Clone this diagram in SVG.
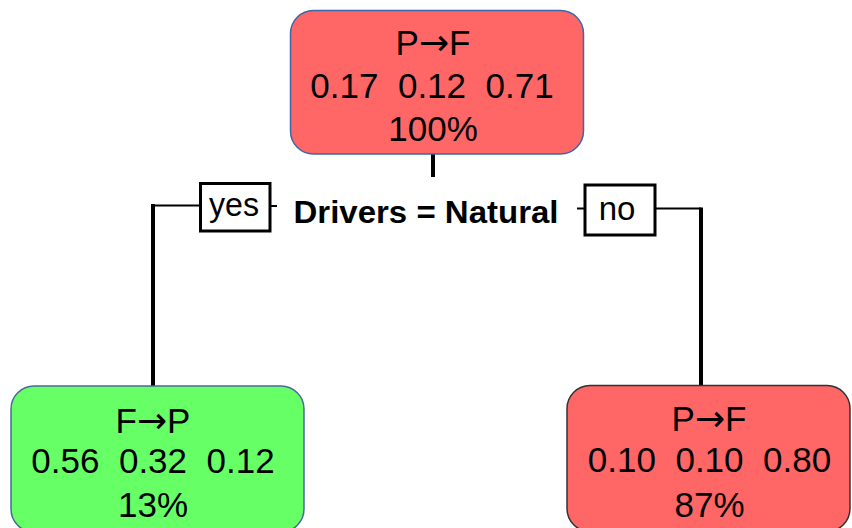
<svg xmlns="http://www.w3.org/2000/svg" width="852" height="528" viewBox="0 0 852 528">
<style>
.node text{font-family:"Liberation Sans",Arial,sans-serif;font-size:35px;fill:#000;text-anchor:middle;white-space:pre}
.arr{font-family:"DejaVu Sans",sans-serif;font-size:36px}
.red{fill:#ff6666}
.green{fill:#66ff66}
.conn{stroke:#000;fill:none}
.thick{stroke-width:4}
.thin{stroke-width:2}
.lbl rect{fill:#fff;stroke:#000;stroke-width:3}
.lbl text{font-family:"Liberation Sans",Arial,sans-serif;font-size:33px;fill:#000;text-anchor:middle}
.split{font-family:"Liberation Sans",Arial,sans-serif;font-size:31px;font-weight:bold;fill:#000;text-anchor:middle}
</style>
<rect width="852" height="528" fill="#fff"/>
<g id="connectors">
<line class="conn thick" x1="433" y1="153" x2="433" y2="177"/>
<polyline class="conn thin" points="200,205.5 153,205.5"/>
<line class="conn thick" x1="153" y1="204" x2="153" y2="386"/>
<line class="conn thin" x1="270" y1="206" x2="277" y2="206"/>
<line class="conn thin" x1="577" y1="208.5" x2="585" y2="208.5"/>
<polyline class="conn thin" points="655,208.5 701,208.5"/>
<line class="conn thick" x1="701" y1="207.5" x2="701" y2="389"/>
</g>
<g id="split-label">
<text class="split" x="426" y="223" textLength="265" lengthAdjust="spacingAndGlyphs">Drivers = Natural</text>
</g>
<g id="label-yes" class="lbl">
<rect x="200.5" y="183.5" width="69.5" height="47.5"/>
<text x="234" y="216" textLength="50" lengthAdjust="spacingAndGlyphs">yes</text>
</g>
<g id="label-no" class="lbl">
<rect x="585" y="185" width="70" height="50"/>
<text x="617" y="220">no</text>
</g>
<g id="node-root" class="node">
<rect class="red" x="290.5" y="10.5" width="293" height="143.5" rx="23" stroke="#3f66a8" stroke-width="1.5"/>
<text x="433" y="55">P<tspan class="arr">→</tspan>F</text>
<text x="432" y="98">0.17  0.12  0.71</text>
<text x="433" y="140.5">100%</text>
</g>
<g id="node-yes" class="node">
<rect class="green" x="11" y="386" width="293" height="146" rx="23" stroke="#4a6a9a" stroke-width="1.5"/>
<text x="153" y="432.5">F<tspan class="arr">→</tspan>P</text>
<text x="153" y="473">0.56  0.32  0.12</text>
<text x="153" y="516.5">13%</text>
</g>
<g id="node-no" class="node">
<rect class="red" x="567" y="385.5" width="283" height="146" rx="23" stroke="#333" stroke-width="1.5"/>
<text x="709" y="431">P<tspan class="arr">→</tspan>F</text>
<text x="709.5" y="472">0.10  0.10  0.80</text>
<text x="709.5" y="516.5">87%</text>
</g>
</svg>
